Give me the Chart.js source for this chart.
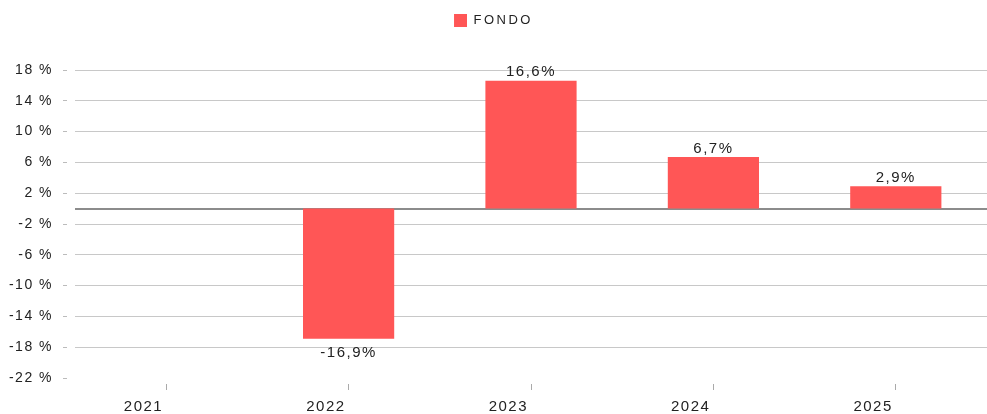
<!DOCTYPE html>
<html>
<head>
<meta charset="utf-8">
<script src="https://cdn.jsdelivr.net/npm/chart.js@4/dist/chart.umd.min.js"></script>
<style>
  html, body { margin: 0; padding: 0; background: #fff; }
  #wrap { width: 987px; height: 414px; }
</style>
</head>
<body>
<div id="wrap"><canvas id="myChart"></canvas></div>
<script>
const years = ['2021', '2022', '2023', '2024', '2025'];
const fondo = [null, -16.9, 16.6, 6.7, 2.9];
const yMin = -22;
const yMax = 18;
const yStep = 4;

const FONT = '"Liberation Sans", Arial, sans-serif';
const fmt = v => v.toFixed(1).replace('.', ',') + '%';

// texto algo más espaciado, como en la imagen original
const spacing = {
    id: 'spacing',
    beforeLayout(chart) { chart.ctx.letterSpacing = '1.5px'; },
    beforeDraw(chart) { chart.ctx.letterSpacing = '1.5px'; }
};

// leyenda: más alta para bajar el área del gráfico, y letras más separadas
const legendTweak = {
    id: 'legendTweak',
    beforeInit(chart) {
        const lg = chart.legend;
        const fit = lg.fit;
        const draw = lg.draw;
        lg.fit = function () {
            const old = this.ctx.letterSpacing;
            this.ctx.letterSpacing = '2.5px';
            fit.call(this);
            this.ctx.letterSpacing = old;
            this.height = 70;
        };
        lg.draw = function () {
            const old = this.ctx.letterSpacing;
            this.ctx.letterSpacing = '2.5px';
            draw.call(this);
            this.ctx.letterSpacing = old;
        };
    }
};

// línea del cero
const zeroLine = {
    id: 'zeroLine',
    beforeDatasetsDraw(chart) {
        const ctx = chart.ctx;
        const y = Math.round(chart.scales.y.getPixelForValue(0));
        ctx.save();
        ctx.strokeStyle = '#8c8c8c';
        ctx.lineWidth = 2;
        ctx.beginPath();
        ctx.moveTo(chart.chartArea.left, y);
        ctx.lineTo(chart.chartArea.right, y);
        ctx.stroke();
        ctx.restore();
    }
};

// etiquetas encima/debajo de cada barra
const barLabels = {
    id: 'barLabels',
    afterDatasetsDraw(chart) {
        const ctx = chart.ctx;
        const meta = chart.getDatasetMeta(0);
        ctx.save();
        ctx.letterSpacing = '1.5px';
        ctx.font = '15px ' + FONT;
        ctx.fillStyle = '#222';
        ctx.textAlign = 'center';
        meta.data.forEach((bar, i) => {
            const v = fondo[i];
            if (v === null) return;
            if (v >= 0) {
                ctx.textBaseline = 'bottom';
                ctx.fillText(fmt(v), bar.x, bar.y - 1);
            } else {
                ctx.textBaseline = 'top';
                ctx.fillText(fmt(v), bar.x, bar.y + 7);
            }
        });
        ctx.restore();
    }
};

const bar_ctx = document.getElementById('myChart');
new Chart(bar_ctx, {
    type: 'bar',
    data: {
        labels: years,
        datasets: [{
            label: 'FONDO',
            data: fondo,
            backgroundColor: '#ff5656',
            borderWidth: 0,
            categoryPercentage: 1,
            barPercentage: 0.5
        }]
    },
    options: {
        responsive: true,
        maintainAspectRatio: false,
        animation: false,
        plugins: {
            tooltip: { enabled: false },
            legend: {
                position: 'top',
                labels: {
                    boxWidth: 13,
                    boxHeight: 13,
                    padding: 14,
                    color: '#222',
                    font: { family: FONT, size: 13 }
                }
            }
        },
        scales: {
            x: {
                afterFit: s => { s.height = 36; },
                grid: {
                    drawOnChartArea: false,
                    offset: false,
                    tickLength: 12,
                    tickColor: '#aaa',
                    tickBorderDash: [6, 6],
                    tickBorderDashOffset: 6
                },
                border: { display: false },
                ticks: {
                    align: 'end',
                    labelOffset: -3,
                    padding: 8,
                    color: '#222',
                    font: { family: FONT, size: 15 }
                }
            },
            y: {
                min: yMin,
                max: yMax,
                afterFit: s => { s.width = 75; },
                ticks: {
                    stepSize: yStep,
                    padding: 10,
                    color: '#222',
                    font: { family: FONT, size: 14 },
                    callback: v => v + ' %'
                },
                grid: {
                    color: c => c.tick && c.tick.value === yMin ? 'rgba(0,0,0,0)' : '#c8c8c8',
                    tickLength: 12,
                    tickColor: '#bbb',
                    tickBorderDash: [4, 8]
                },
                border: { display: false }
            }
        }
    },
    plugins: [spacing, legendTweak, zeroLine, barLabels]
});
</script>
</body>
</html>
